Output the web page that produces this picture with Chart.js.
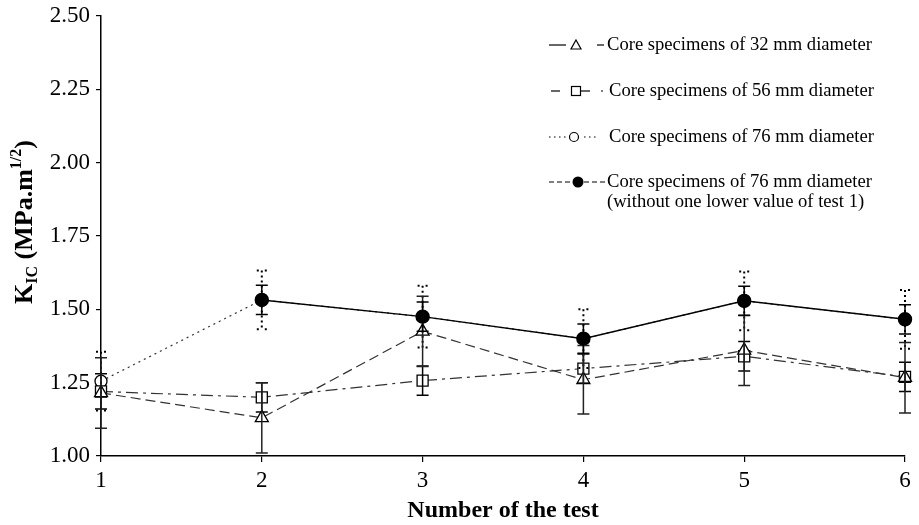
<!DOCTYPE html>
<html>
<head>
<meta charset="utf-8">
<script src="https://cdn.jsdelivr.net/npm/chart.js@4"></script>
<style>
  html, body { margin: 0; padding: 0; background: #fff; }
  #wrap { width: 919px; height: 525px; }
</style>
</head>
<body>
<div id="wrap"><canvas id="c" width="919" height="525"></canvas></div>
<script>
// Test numbers (x categories) and y-axis tick values
const tests = ['1', '2', '3', '4', '5', '6'];
const yTickValues = [1.00, 1.25, 1.50, 1.75, 2.00, 2.25, 2.50];

// Mean K_IC per test and half-width of the error bar (MPa.m^1/2)
const kic32 = [1.215, 1.13, 1.425, 1.26, 1.36, 1.267];
const err32 = [0.12, 0.12, 0.12, 0.117, 0.12, 0.12];

const kic56 = [1.22, 1.20, 1.257, 1.298, 1.34, 1.27];
const err56 = [0.06, 0.05, 0.05, 0.05, 0.05, 0.05];

const kic76 = [1.255, 1.532, 1.475, 1.40, 1.529, 1.466];
const err76 = [0.10, 0.10, 0.105, 0.10, 0.10, 0.10];

const kic76b = [null, 1.532, 1.475, 1.40, 1.529, 1.466];
const err76b = [null, 0.05, 0.05, 0.05, 0.05, 0.05];

const legendLines = [
  ['Core specimens of 32 mm diameter'],
  ['Core specimens of 56 mm diameter'],
  ['Core specimens of 76 mm diameter'],
  ['Core specimens of 76 mm diameter', '(without one lower value of test 1)']
];

const SERIF = '"Liberation Serif", "Times New Roman", serif';

// Vertical error bars with caps, computed through the chart scales
const errorBarPlugin = {
  id: 'errorBarPlugin',
  afterDatasetsDraw(chart) {
    const { ctx, scales: { x, y } } = chart;
    const list = chart.data.datasets.slice().reverse();
    list.forEach(ds => {
      const eb = ds.errorBars;
      if (!eb) return;
      ctx.save();
      ctx.strokeStyle = eb.color;
      ctx.lineWidth = eb.width;
      ds.data.forEach((v, j) => {
        const e = eb.values[j];
        if (v == null || e == null) return;
        const px = x.getPixelForValue(j);
        const top = y.getPixelForValue(v + e);
        const bot = y.getPixelForValue(v - e);
        ctx.setLineDash(eb.dash || []);
        ctx.beginPath();
        ctx.moveTo(px, top); ctx.lineTo(px, bot);
        ctx.stroke();
        ctx.setLineDash(eb.capDash || []);
        ctx.beginPath();
        ctx.moveTo(px - eb.cap, top); ctx.lineTo(px + eb.cap, top);
        ctx.moveTo(px - eb.cap, bot); ctx.lineTo(px + eb.cap, bot);
        ctx.stroke();
      });
      ctx.restore();
    });
  }
};

// Y-axis title with subscript and superscript, and the key in the upper right
const annotationPlugin = {
  id: 'annotationPlugin',
  afterDraw(chart) {
    const ctx = chart.ctx;

    // ---- rotated y title: K_IC (MPa.m^1/2)
    const big = 'bold 26px ' + SERIF;
    const small = 'bold 16px ' + SERIF;
    const parts = [
      { t: 'K', f: big, dy: 0 },
      { t: 'IC', f: small, dy: 5 },
      { t: ' (MPa.m', f: big, dy: 0 },
      { t: '1/2', f: small, dy: -11 },
      { t: ')', f: big, dy: 0 }
    ];
    ctx.save();
    let total = 0;
    parts.forEach(p => { ctx.font = p.f; p.w = ctx.measureText(p.t).width; total += p.w; });
    ctx.translate(32, 222);
    ctx.rotate(-Math.PI / 2);
    ctx.fillStyle = '#000';
    ctx.textBaseline = 'alphabetic';
    ctx.textAlign = 'left';
    let cx = -total / 2;
    parts.forEach(p => { ctx.font = p.f; ctx.fillText(p.t, cx, p.dy); cx += p.w; });
    ctx.restore();

    // ---- key
    ctx.save();
    ctx.strokeStyle = '#000';
    ctx.fillStyle = '#000';
    ctx.lineWidth = 1.2;
    const seg = (x1, x2, yy, dash) => {
      ctx.setLineDash(dash);
      ctx.beginPath(); ctx.moveTo(x1, yy); ctx.lineTo(x2, yy); ctx.stroke();
      ctx.setLineDash([]);
    };
    const rows = [45, 91, 137, 182];

    // row 1: triangle
    let yy = rows[0];
    seg(549, 566, yy, []);
    ctx.beginPath();
    ctx.moveTo(576, yy - 5); ctx.lineTo(581, yy + 4); ctx.lineTo(571, yy + 4); ctx.closePath();
    ctx.stroke();
    seg(597, 604, yy, []);

    // row 2: square
    yy = rows[1];
    seg(551, 560, yy, []);
    ctx.strokeRect(571.5, yy - 4.5, 9, 9);
    seg(581, 590, yy, []);
    seg(601, 603, yy, []);

    // row 3: open circle
    yy = rows[2];
    seg(549, 566, yy, [1.5, 3.5]);
    ctx.beginPath(); ctx.arc(574, yy, 4.5, 0, Math.PI * 2); ctx.stroke();
    seg(584, 598, yy, [1.5, 3.5]);

    // row 4: filled circle
    yy = rows[3];
    seg(549, 572, yy, [5, 3]);
    ctx.beginPath(); ctx.arc(578, yy, 5.5, 0, Math.PI * 2); ctx.fill();
    seg(584, 606, yy, [5, 3]);

    ctx.font = '18.6px ' + SERIF;
    ctx.textBaseline = 'middle';
    ctx.textAlign = 'left';
    const textX = [607, 609, 609, 607];
    legendLines.forEach((lines, i) => {
      lines.forEach((s, k) => ctx.fillText(s, textX[i], rows[i] + k * 20));
    });
    ctx.restore();
  }
};

const lineGray = '#333';

new Chart(document.getElementById('c'), {
  type: 'line',
  data: {
    labels: tests,
    datasets: [
      {
        label: legendLines[3].join(' '),
        data: kic76b,
        borderColor: '#000',
        borderWidth: 1.4,
        pointStyle: 'circle',
        pointRadius: 6.5,
        pointBackgroundColor: '#000',
        pointBorderColor: '#000',
        spanGaps: false,
        errorBars: { values: err76b, color: '#000', width: 1.5, cap: 6 }
      },
      {
        label: legendLines[0][0],
        data: kic32,
        borderColor: lineGray,
        borderWidth: 1.2,
        borderDash: [10, 5],
        pointStyle: 'triangle',
        pointRadius: 7.5,
        pointBackgroundColor: '#fff',
        pointBorderColor: '#000',
        pointBorderWidth: 1.3,
        errorBars: { values: err32, color: '#222', width: 1.5, cap: 6 }
      },
      {
        label: legendLines[1][0],
        data: kic56,
        borderColor: lineGray,
        borderWidth: 1.2,
        borderDash: [12, 5, 3, 5],
        pointStyle: 'rect',
        pointRadius: 7.8,
        pointBackgroundColor: '#fff',
        pointBorderColor: '#000',
        pointBorderWidth: 1.3,
        errorBars: { values: err56, color: '#000', width: 1.5, cap: 6 }
      },
      {
        label: legendLines[2][0],
        data: kic76,
        borderColor: lineGray,
        borderWidth: 1.2,
        borderDash: [2, 4],
        pointStyle: 'circle',
        pointRadius: 6,
        pointBackgroundColor: '#fff',
        pointBorderColor: '#000',
        pointBorderWidth: 1.3,
        errorBars: { values: err76, color: '#000', width: 2, cap: 5, dash: [2, 3], capDash: [2, 6] }
      }
    ]
  },
  options: {
    responsive: false,
    animation: false,
    devicePixelRatio: 1,
    layout: { padding: { top: 16, right: 14, left: 0, bottom: 0 } },
    plugins: {
      legend: { display: false },
      tooltip: { enabled: false }
    },
    elements: { line: { tension: 0, fill: false } },
    scales: {
      x: {
        type: 'category',
        offset: false,
        grid: { drawOnChartArea: false, drawTicks: true, tickLength: 6, color: '#000', lineWidth: 1.2 },
        border: { display: true, color: '#000', width: 1.5 },
        ticks: { color: '#000', font: { family: SERIF, size: 23 }, padding: 5, maxRotation: 0 },
        title: {
          display: true,
          text: 'Number of the test',
          color: '#000',
          font: { family: SERIF, size: 24, weight: 'bold' },
          padding: { top: 0, bottom: 0 }
        },
        afterFit(s) { s.height = 69; s.paddingLeft = 0; s.paddingRight = 0; }
      },
      y: {
        min: 1,
        max: 2.5,
        afterBuildTicks(s) { s.ticks = yTickValues.map(v => ({ value: v })); },
        grid: { drawOnChartArea: false, drawTicks: true, tickLength: 5, color: '#000', lineWidth: 1.2 },
        border: { display: true, color: '#000', width: 1.5 },
        ticks: {
          color: '#000',
          font: { family: SERIF, size: 23 },
          padding: 6,
          callback: v => Number(v).toFixed(2)
        },
        afterFit(s) { s.width = 101; s.paddingTop = 0; s.paddingBottom = 0; }
      }
    }
  },
  plugins: [errorBarPlugin, annotationPlugin]
});
</script>
</body>
</html>
